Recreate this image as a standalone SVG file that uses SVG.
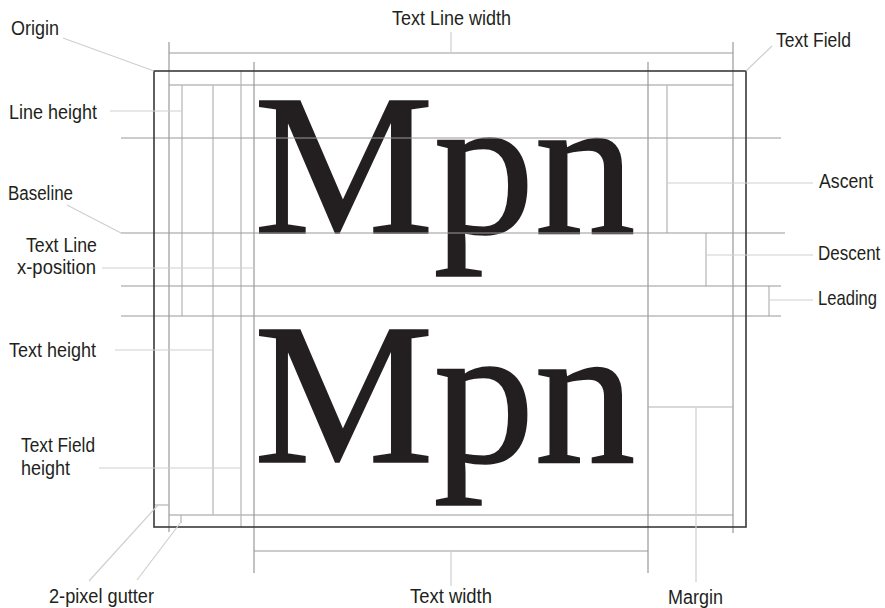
<svg xmlns="http://www.w3.org/2000/svg" width="885" height="608" viewBox="0 0 885 608">
<style>
.lbl{font-family:"Liberation Sans",Arial,sans-serif;font-size:20px;fill:#231f20}
.mpn{font-family:"Liberation Serif","Times New Roman",serif;font-size:202px;fill:#231f20;stroke:#231f20;stroke-width:1.6}
.g{stroke:#999;stroke-width:1.2;fill:none}
.gl{stroke:#b4b4b4;stroke-width:1.2;fill:none}
.c{stroke:#cfcfcf;stroke-width:1.2;fill:none}
.frame{stroke:#3a3a3a;stroke-width:1.6;fill:none}
</style>
<rect width="885" height="608" fill="#fff"/>
<g id="sample-text">
<text class="mpn" x="254" y="233">Mpn</text>
<text class="mpn" x="254" y="462">Mpn</text>
</g>
<g id="guides">
<line class="g" x1="169" y1="42" x2="169" y2="532"/>
<line class="g" x1="733" y1="42" x2="733" y2="533"/>
<line class="g" x1="169" y1="53" x2="733" y2="53"/>
<line class="g" x1="169" y1="85" x2="733" y2="85"/>
<line class="g" x1="169" y1="515" x2="733" y2="515"/>
<line class="gl" x1="182" y1="85" x2="182" y2="316"/>
<line class="gl" x1="213" y1="85" x2="213" y2="515"/>
<line class="gl" x1="241" y1="71" x2="241" y2="527"/>
<line class="g" x1="254" y1="62" x2="254" y2="573"/>
<line class="g" x1="648" y1="62" x2="648" y2="573"/>
<line class="g" x1="254" y1="551" x2="648" y2="551"/>
<line class="gl" x1="667" y1="85" x2="667" y2="233"/>
<line class="gl" x1="706" y1="233" x2="706" y2="286"/>
<line class="gl" x1="769" y1="286" x2="769" y2="316"/>
<line class="gl" x1="648" y1="407" x2="733" y2="407"/>
<line class="g" x1="121" y1="138" x2="781" y2="138"/>
<line class="g" x1="121" y1="233" x2="785" y2="233"/>
<line class="g" x1="121" y1="286" x2="781" y2="286"/>
<line class="g" x1="121" y1="316" x2="781" y2="316"/>
<line class="gl" x1="154" y1="505" x2="169" y2="505"/>
<line class="gl" x1="181" y1="515" x2="181" y2="523"/>
</g>
<g id="text-field">
<rect class="frame" x="154" y="71" width="592" height="456"/>
</g>
<g id="connectors">
<line class="c" x1="63" y1="38" x2="154" y2="71"/>
<line class="c" x1="451" y1="32" x2="451" y2="53"/>
<line class="c" x1="772" y1="46" x2="746" y2="71"/>
<line class="c" x1="110" y1="111" x2="182" y2="111"/>
<line class="c" x1="67" y1="205" x2="121" y2="233"/>
<line class="c" x1="102" y1="268" x2="254" y2="268"/>
<line class="c" x1="115" y1="350" x2="213" y2="350"/>
<line class="c" x1="99" y1="468" x2="241" y2="468"/>
<line class="c" x1="89" y1="581" x2="158" y2="505"/>
<line class="c" x1="137" y1="580" x2="181" y2="522"/>
<line class="c" x1="451" y1="551" x2="451" y2="586"/>
<line class="c" x1="696" y1="408" x2="696" y2="582"/>
<line class="c" x1="667" y1="183" x2="813" y2="183"/>
<line class="c" x1="706" y1="255" x2="813" y2="255"/>
<line class="c" x1="769" y1="300" x2="813" y2="300"/>
</g>
<g id="label-origin"><text class="lbl" x="11" y="35" textLength="48" lengthAdjust="spacingAndGlyphs">Origin</text></g>
<g id="label-text-line-width"><text class="lbl" x="392" y="25" textLength="119" lengthAdjust="spacingAndGlyphs">Text Line width</text></g>
<g id="label-text-field"><text class="lbl" x="776" y="47" textLength="75" lengthAdjust="spacingAndGlyphs">Text Field</text></g>
<g id="label-line-height"><text class="lbl" x="9" y="119" textLength="88" lengthAdjust="spacingAndGlyphs">Line height</text></g>
<g id="label-baseline"><text class="lbl" x="8" y="200" textLength="65" lengthAdjust="spacingAndGlyphs">Baseline</text></g>
<g id="label-x-position"><text class="lbl"><tspan x="26" y="252" textLength="71" lengthAdjust="spacingAndGlyphs">Text Line</tspan><tspan x="17" y="274" textLength="79" lengthAdjust="spacingAndGlyphs">x-position</tspan></text></g>
<g id="label-text-height"><text class="lbl" x="9" y="357" textLength="87" lengthAdjust="spacingAndGlyphs">Text height</text></g>
<g id="label-field-height"><text class="lbl"><tspan x="21" y="452" textLength="74" lengthAdjust="spacingAndGlyphs">Text Field</tspan><tspan x="21" y="475" textLength="49" lengthAdjust="spacingAndGlyphs">height</tspan></text></g>
<g id="label-gutter"><text class="lbl" x="49" y="603" textLength="105" lengthAdjust="spacingAndGlyphs">2-pixel gutter</text></g>
<g id="label-text-width"><text class="lbl" x="410" y="603" textLength="82" lengthAdjust="spacingAndGlyphs">Text width</text></g>
<g id="label-margin"><text class="lbl" x="668" y="604" textLength="55" lengthAdjust="spacingAndGlyphs">Margin</text></g>
<g id="label-ascent"><text class="lbl" transform="translate(819 188) scale(0.885 1)" x="0" y="0">Ascent</text></g>
<g id="label-descent"><text class="lbl" transform="translate(818 260) scale(0.85 1)" x="0" y="0">Descent</text></g>
<g id="label-leading"><text class="lbl" transform="translate(818 305) scale(0.83 1)" x="0" y="0">Leading</text></g>
</svg>
